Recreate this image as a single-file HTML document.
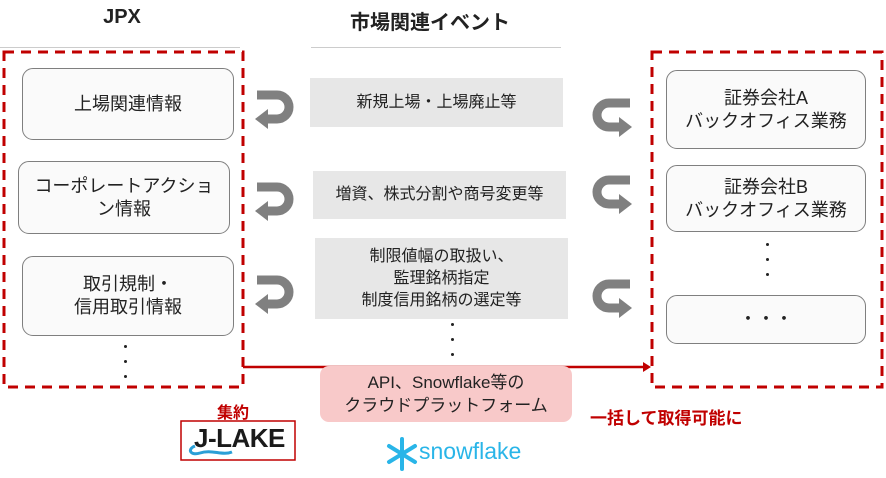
<!DOCTYPE html>
<html><head><meta charset="utf-8">
<style>
*{margin:0;padding:0;box-sizing:border-box}
body{width:886px;height:478px;background:#fff;position:relative;overflow:hidden;font-family:"Liberation Sans","Noto Sans CJK JP",sans-serif;color:#222}
.a{position:absolute}
.box{position:absolute;border:1px solid #7f7f7f;border-radius:11px;background:#fafafa;display:flex;align-items:center;justify-content:center;text-align:center;font-size:18px;line-height:23px}
.g{position:absolute;background:#e7e7e7;display:flex;align-items:center;justify-content:center;text-align:center;font-size:16px;line-height:22px}
.t{font-weight:bold;font-size:20px;text-align:center}
.r{color:#c00000;font-weight:bold;font-size:16px}
.dot{position:absolute;width:3px;height:3px;background:#222;border-radius:50%}
</style></head><body>
<div class="a t" style="left:72px;top:6px;width:100px">JPX</div>
<div class="a t" style="left:320px;top:6px;width:220px">市場関連イベント</div>
<div class="a" style="left:0;top:47px;width:240px;height:1px;background:#ccc"></div>
<div class="a" style="left:311px;top:47px;width:250px;height:1px;background:#ccc"></div>

<svg class="a" style="left:0;top:0" width="886" height="478">
<rect x="4" y="52" width="239" height="335" fill="none" stroke="#c00000" stroke-width="3" stroke-dasharray="10,7"/>
<rect x="652" y="52" width="230" height="335" fill="none" stroke="#c00000" stroke-width="3" stroke-dasharray="10,7"/>
<line x1="243" y1="367" x2="645" y2="367" stroke="#c00000" stroke-width="2.5"/>
<polygon points="651,367 643,362 643,372" fill="#c00000"/>
<g fill="none" stroke="#808080" stroke-width="9">
<path d="M257,95 H277 A12,12 0 0 1 277,119 H266"/>
<path d="M257,187 H277 A12,12 0 0 1 277,211 H266"/>
<path d="M257,280 H277 A12,12 0 0 1 277,304 H266"/>
<path d="M630,103 H609 A12,12 0 0 0 609,127 H620"/>
<path d="M630,180 H609 A12,12 0 0 0 609,204 H620"/>
<path d="M630,284 H609 A12,12 0 0 0 609,308 H620"/>
</g>
<g fill="#808080">
<polygon points="255,119 268,109 268,129"/>
<polygon points="255,211 268,201 268,221"/>
<polygon points="255,304 268,294 268,314"/>
<polygon points="632,127 619,117 619,137"/>
<polygon points="632,204 619,194 619,214"/>
<polygon points="632,308 619,298 619,318"/>
</g>
<rect x="181" y="421" width="114" height="39" fill="#fff" stroke="#c00000" stroke-width="1.5"/>
<path d="M195,446 C187,449 190,456 200,453 C212,449 222,456 232,452" fill="none" stroke="#2a9fd6" stroke-width="3"/>
<g stroke="#29b5e8" stroke-width="4" stroke-linecap="round">
<line x1="402" y1="439" x2="402" y2="469"/>
<line x1="389" y1="446" x2="415" y2="462"/>
<line x1="389" y1="462" x2="415" y2="446"/>
</g>
</svg>

<div class="box" style="left:22px;top:68px;width:212px;height:72px">上場関連情報</div>
<div class="box" style="left:18px;top:161px;width:212px;height:73px">コーポレートアクショ<br>ン情報</div>
<div class="box" style="left:22px;top:256px;width:212px;height:80px">取引規制・<br>信用取引情報</div>
<div class="dot" style="left:124px;top:345px"></div><div class="dot" style="left:124px;top:360px"></div><div class="dot" style="left:124px;top:375px"></div>

<div class="g" style="left:310px;top:78px;width:253px;height:49px">新規上場・上場廃止等</div>
<div class="g" style="left:313px;top:171px;width:253px;height:48px">増資、株式分割や商号変更等</div>
<div class="g" style="left:315px;top:238px;width:253px;height:81px">制限値幅の取扱い、<br>監理銘柄指定<br>制度信用銘柄の選定等</div>
<div class="dot" style="left:451px;top:323px"></div><div class="dot" style="left:451px;top:338px"></div><div class="dot" style="left:451px;top:353px"></div>

<div class="box" style="left:666px;top:70px;width:200px;height:79px">証券会社A<br>バックオフィス業務</div>
<div class="box" style="left:666px;top:165px;width:200px;height:67px">証券会社B<br>バックオフィス業務</div>
<div class="dot" style="left:766px;top:243px"></div><div class="dot" style="left:766px;top:258px"></div><div class="dot" style="left:766px;top:273px"></div>
<div class="box" style="left:666px;top:295px;width:200px;height:49px">・・・</div>

<div class="a" style="left:320px;top:366px;width:252px;height:56px;background:#f8c9c9;border-radius:9px;display:flex;align-items:center;justify-content:center;text-align:center;font-size:17px;line-height:23px">API、Snowflake等の<br>クラウドプラットフォーム</div>

<div class="a r" style="left:217px;top:399px">集約</div>
<div class="a" style="left:194px;top:423px;font-weight:bold;font-size:26px;color:#1a1a1a;letter-spacing:-0.5px">J-LAKE</div>
<div class="a r" style="left:590px;top:404px;font-size:17px">一括して取得可能に</div>
<div class="a" style="left:419px;top:438px;font-size:23px;color:#29b5e8">snowflake</div>
</body></html>
